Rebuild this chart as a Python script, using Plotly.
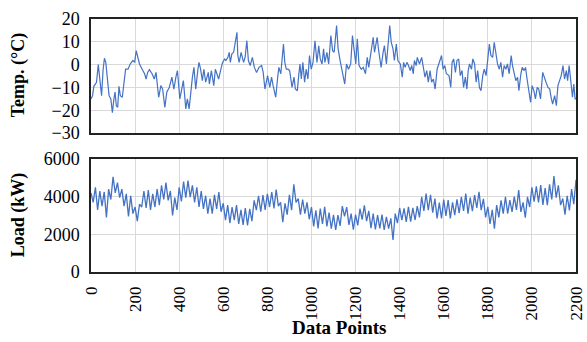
import plotly.graph_objects as go
from plotly.subplots import make_subplots

# ---------------- data ----------------
temp_index = [0, 7, 13, 25, 33, 40, 48, 55, 61, 67, 73, 82, 90, 97, 103, 109, 115, 121, 127, 133,
              142, 148, 157, 168, 178, 190, 198, 205, 213, 220, 232, 243, 250, 257, 265, 277, 287, 295,
              307, 317, 325, 335, 344, 355, 367, 376, 385, 392, 403, 412, 419, 430, 437, 445, 452, 460,
              467, 475, 485, 490, 497, 505, 512, 520, 532, 537, 546, 557, 564, 579, 591, 597, 606, 612,
              621, 627, 632, 639, 647, 654, 662, 666, 672, 681, 692, 699, 707, 714, 722, 732, 741, 751,
              762, 774, 781, 789, 801, 811, 819, 826, 838, 846, 852, 861, 868, 873, 879, 886,
              894, 901, 912, 921, 927, 936, 942, 948, 954, 961, 969, 976, 984, 991, 999, 1007, 1016,
              1025, 1033, 1040, 1048, 1055, 1061, 1070, 1078, 1088, 1096, 1103, 1114, 1121, 1130, 1141,
              1151, 1159, 1168, 1178, 1186, 1193, 1201, 1208, 1216, 1226, 1235, 1245, 1253, 1260, 1271,
              1280, 1286, 1292, 1298, 1305, 1316, 1325, 1331, 1340, 1347, 1355, 1362, 1370, 1376, 1385,
              1392, 1403, 1412, 1418, 1425, 1433, 1440, 1448, 1455, 1462, 1467, 1475, 1480, 1490, 1500,
              1508, 1515, 1523, 1530, 1538, 1545, 1553, 1561, 1570, 1578, 1590, 1597, 1605, 1612, 1624,
              1632, 1638, 1645, 1653, 1660, 1668, 1675, 1683, 1690, 1698, 1705, 1711, 1717, 1726, 1732,
              1740, 1747, 1754, 1762, 1769, 1777, 1784, 1792, 1799, 1807, 1814, 1822, 1829, 1837, 1844,
              1852, 1859, 1867, 1874, 1882, 1889, 1897, 1906, 1912, 1919, 1927, 1935, 1941, 1950, 1956,
              1965, 1971, 1978, 1986, 1994, 2001, 2009, 2016, 2024, 2031, 2039, 2049, 2055, 2064, 2073,
              2081, 2087, 2094, 2103, 2111, 2118, 2124, 2133, 2141, 2148, 2156, 2162, 2169, 2178, 2184,
              2190, 2196, 2200]
temp_values = [-15, -13.6, -9.5, -7.7, 0, -6.3, -13.6, -2, 2.8, 1, -6.3, -13.6, -15, -21, -15.8, -12, -18, -18.7, -9.5, -13.6,
               -14.3, -8.5, -2, -2, 0.3, 1.8, 1, 6.1, 2.5, 0.3, -2, -4, -6.3, -3.4, -2.2, -4, -6.3, -3.4,
               -14.3, -9.2, -10.7, -18.7, -12, -10, -5.5, -10.7, -5.5, -2.6, -15, -10.7, -7, -19.4, -15, -19.4, -12, -5.5,
               -1.2, -10.7, -2, 1, -2, -7, -2, -7.7, -3.4, -8.5, -2.6, -9.2, -2, -6.3, -1.2, 1, 2.5, 1.8,
               3.2, 5.4, 1, 4.7, 5.4, 10.5, 14.2, 4, 1, 5.4, 1, 3.2, 10.5, 1.8, -0.4, 3.2, -1.2, -3.4,
               -1.2, -0.4, -3.4, -10.7, -4.8, -10, -5.5, -9.2, -14.3, -6.3, -1.2, -4, 4.7, 9, 1, -2,
               -2, -2.6, -10, -5.5, -10.7, -11.4, -4.8, 0.3, -6.3, 1, -7.7, -2, -6.3, 4, -2, 1, 10.5,
               1, 8.3, 2.5, 0.3, 6.9, 1, 5.4, 0.3, 12.7, 6.1, 5.4, 17.1, 6.9, 1.8, -4,
               -8.5, 0.3, -2, 0.3, 12.7, 6.9, 0.3, 11.3, -0.4, -2, -1.2, -4, 3.2, -1.2, 6.9,
               12, 5.4, 8.3, 12, 6.1, -1.2, 5.4, 8.3, 0.3, 9, 17.1, 9.8, 6.9, 1.8, 9,
               1.8, 0.3, -5.5, 1, -1.2, 1, -0.4, -2.6, -0.4, -4, 1.8, -0.4, 3.2, 0.3, 3.2,
               -2.6, -5.5, -2.6, -7.7, -2.6, -7.7, -6.3, -10.7, -2, 0.3, 4, -2, -0.4, -4, -4.8,
               -10, 1, 2.5, -3.4, 1.8, 2.5, -4.8, -2.6, -10, -5.5, -10.7, -2.6, 0.3, -2, 2.5,
               0.3, -7.7, -2.6, -10, -11.4, -4.8, -2, -4.8, 3.2, 9, 4, 3.2, 9.8, 4.7, 0.3,
               -2, 1, -5.5, -0.4, -2, 0.3, -4, 4, -0.4, -3.4, -7, -5.5, -11.4, -4, -1.2,
               -2.6, -1.2, -6.3, -12, -16.5, -9.2, -11.4, -15, -10, -10.7, -15, -3.4, -4.8, -7.7, -10,
               -10.7, -14.3, -17.3, -13.6, -18, -9.2, -7.7, -4.8, -0.4, -6.3, -2.6, -7, -0.4, -7.7, -14.3,
               -8.5, -15, -15]

load_index = list(range(0, 2201, 10))
load_values = [4200, 3700, 4500, 3300, 4300, 3500, 4250, 2900, 4400, 3850,
               5050, 4200, 4750, 3950, 4400, 3500, 4150, 2950, 4050, 3100,
               3450, 2700, 3600, 3450, 4300, 3400, 4350, 3300, 4150, 3450,
               4400, 3550, 4600, 3850, 4750, 3800, 4300, 3000, 3950, 3300,
               4500, 3750, 4800, 3950, 4850, 3980, 4600, 3700, 4500, 3450,
               4300, 3350, 4050, 3100, 3900, 3100, 4100, 3350, 4250, 3200,
               3650, 2750, 3550, 2600, 3450, 2750, 3550, 2550, 3300, 2500,
               3400, 2480, 3350, 2700, 3800, 3280, 4050, 3200, 4080, 3300,
               4150, 3450, 4250, 3380, 4380, 3500, 3700, 2650, 3650, 3050,
               4100, 3280, 4650, 3700, 3900, 3050, 3850, 3100, 3700, 2800,
               3450, 2420, 3280, 2320, 3370, 2550, 3460, 2420, 3150, 2300,
               3030, 2230, 3020, 2450, 3500, 2950, 3450, 2500, 3100, 2250,
               3050, 2480, 3360, 2780, 3540, 2700, 3250, 2330, 3100, 2260,
               3020, 2320, 3050, 2230, 2930, 2300, 2850, 1700, 3100, 2600,
               3400, 2760, 3380, 2660, 3460, 2680, 3400, 2760, 3500, 2900,
               3990, 3250, 4170, 3280, 4100, 3150, 3900, 2850, 3680, 2840,
               3850, 2980, 3820, 2850, 3700, 3020, 3860, 3120, 3990, 3250,
               4170, 3100, 3950, 3230, 4080, 3400, 4260, 3280, 3880, 2900,
               3460, 2550, 3300, 2300, 3550, 2900, 3800, 3100, 3990, 3100,
               3820, 3190, 4000, 3300, 4350, 3190, 3700, 2880, 3990, 3450,
               4500, 3730, 4550, 3700, 4615, 3560, 4450, 3550, 4650, 3850,
               5090, 3950, 4600, 3550, 3900, 3050, 4050, 3270, 4400, 3600,
               4900]

x_ticks = [0, 200, 400, 600, 800, 1000, 1200, 1400, 1600, 1800, 2000, 2200]

# ---------------- figure ----------------
LINE = "#4472C4"
GRID = "#d9d9d9"
FONT = "Liberation Serif, Times New Roman, serif"

fig = make_subplots(rows=2, cols=1, shared_xaxes=False, vertical_spacing=0.1)

fig.add_trace(go.Scatter(x=temp_index, y=temp_values, mode="lines",
                         line=dict(color=LINE, width=1.2), showlegend=False), row=1, col=1)
fig.add_trace(go.Scatter(x=load_index, y=load_values, mode="lines",
                         line=dict(color=LINE, width=1.3), showlegend=False), row=2, col=1)

xcommon = dict(range=[0, 2200], tickmode="array", tickvals=x_ticks,
               showgrid=True, gridcolor=GRID, gridwidth=1.3,
               showline=True, linecolor="#222", linewidth=1.5, mirror=True,
               zeroline=False, ticks="", automargin=False)
fig.update_xaxes(**xcommon, showticklabels=False, row=1, col=1)
fig.update_xaxes(**xcommon, showticklabels=True, tickangle=-90,
                 ticktext=[str(v) for v in x_ticks], ticklabelstandoff=6,
                 ticklabeloverflow="allow", tickfont=dict(size=17),
                 row=2, col=1)

ycommon = dict(showgrid=True, gridcolor=GRID, gridwidth=1.3,
               showline=True, linecolor="#222", linewidth=1.5, mirror=True,
               zeroline=False, ticks="", ticklabelstandoff=6, tickfont=dict(size=18),
               automargin=False)
fig.update_yaxes(**ycommon, range=[-30, 20], tickvals=[-30, -20, -10, 0, 10, 20], row=1, col=1)
fig.update_yaxes(**ycommon, range=[0, 6000], tickvals=[0, 2000, 4000, 6000], row=2, col=1)

fig.update_layout(
    width=587, height=342,
    margin=dict(l=91, r=11, t=19, b=70),
    paper_bgcolor="white", plot_bgcolor="white",
    font=dict(family=FONT, size=18, color="black"),
    xaxis=dict(domain=[0, 1]),
    yaxis=dict(domain=[0.549, 1.0]),
    xaxis2=dict(domain=[0, 1]),
    yaxis2=dict(domain=[0.0, 0.4466]),
    annotations=[
        dict(text="<b>Temp. (°C)</b>", xref="paper", yref="paper",
             x=-0.15, y=(272 - 75) / 253, textangle=-90, showarrow=False,
             xanchor="center", yanchor="middle", font=dict(family=FONT, size=18)),
        dict(text="<b>Load (kW)</b>", xref="paper", yref="paper",
             x=-0.15, y=(272 - 215) / 253, textangle=-90, showarrow=False,
             xanchor="center", yanchor="middle", font=dict(family=FONT, size=18)),
        dict(text="<b>Data Points</b>", xref="paper", yref="paper",
             x=(339 - 91) / 485, y=(272 - 327) / 253, showarrow=False,
             xanchor="center", yanchor="middle", font=dict(family=FONT, size=19)),
    ],
)

fig.write_html("out.html")
